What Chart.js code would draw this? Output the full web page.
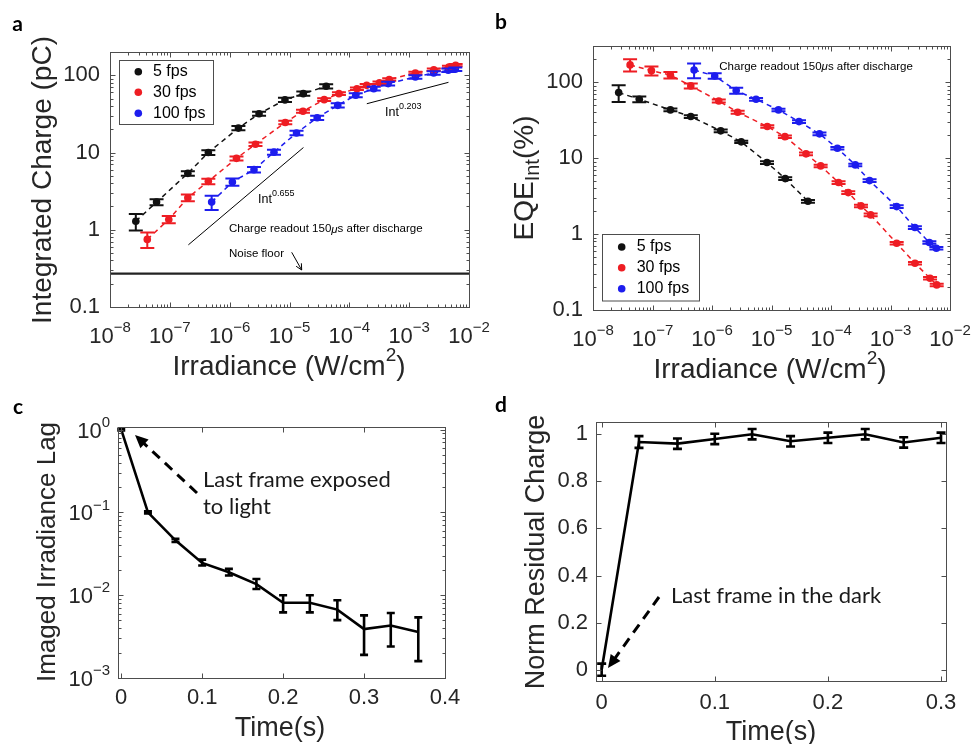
<!DOCTYPE html>
<html>
<head>
<meta charset="utf-8">
<title>Integrated charge, EQE and image lag</title>
<script src="https://cdn.jsdelivr.net/npm/chart.js@4.4.1/dist/chart.umd.min.js"></script>
<style>
  html, body { margin: 0; padding: 0; background: #fff; }
  #figure { position: relative; width: 975px; height: 744px; overflow: hidden; background: #fff; }
  #figure canvas { position: absolute; }
</style>
</head>
<body>
<div id="figure">
  <canvas id="panelA" width="505" height="395" style="left:0;top:0"></canvas>
  <canvas id="panelB" width="488" height="395" style="left:487px;top:0"></canvas>
  <canvas id="panelC" width="487" height="349" style="left:0;top:395px"></canvas>
  <canvas id="panelD" width="488" height="349" style="left:487px;top:395px"></canvas>
</div>
<script>
// ---------------- data ----------------
const frameRates = ['5 fps', '30 fps', '100 fps'];

// Irradiance (W/cm²) of each measurement
const irr5   = [2.7e-8, 6.0e-8, 2.0e-7, 4.4e-7, 1.4e-6, 3.1e-6, 8.4e-6, 1.7e-5, 4.1e-5];
const irr30  = [4.2e-8, 9.6e-8, 2.0e-7, 4.4e-7, 1.3e-6, 2.7e-6, 8.5e-6, 1.68e-5, 3.8e-5, 6.7e-5,
                1.34e-4, 1.95e-4, 3.19e-4, 4.64e-4, 1.27e-3, 2.58e-3, 4.62e-3, 5.98e-3];
const irr100 = [5.0e-7, 1.11e-6, 2.55e-6, 5.5e-6, 1.31e-5, 2.9e-5, 6.4e-5, 1.28e-4, 2.56e-4, 4.45e-4,
                1.27e-3, 2.57e-3, 4.5e-3, 5.9e-3];

// Integrated charge (pC) and its ± error
const charge5      = [1.29, 2.28, 5.37, 10.0, 20.7, 31.8, 48, 57.8, 71.9];
const charge5Err   = [0.31, 0.2, 0.37, 0.7, 1.3, 2, 3, 3.6, 4.5];
const charge30     = [0.75, 1.36, 2.6, 4.23, 8.4, 12.8, 24.5, 34.2, 48.3, 57.8, 67, 74, 80, 88, 107, 118, 128, 135];
const charge30Err  = [0.17, 0.15, 0.26, 0.35, 0.5, 0.7, 1.2, 1.5, 2, 2.3, 2.6, 2.8, 3, 3.2, 3.7, 4.1, 4.5, 4.7];
const charge100    = [2.28, 4.15, 6.0, 10.1, 17.9, 28.2, 40.8, 55.1, 67.1, 78, 95, 107, 116, 120];
const charge100Err = [0.48, 0.45, 0.5, 0.75, 1.2, 1.8, 2.5, 3.2, 3.8, 4.3, 5, 5.5, 6, 6.2];

// EQE_Int (%) and its ± error
const eqe5      = [73, 59.7, 43.2, 35.3, 22.9, 16.4, 8.75, 5.38, 2.7];
const eqe5Err   = [18, 5.4, 1.8, 1.4, 0.9, 0.6, 0.35, 0.22, 0.11];
const eqe30     = [169, 142, 124, 89.5, 56.7, 40.3, 26.1, 19.2, 11.4, 7.9, 4.77, 3.52, 2.35, 1.79, 0.757, 0.412, 0.262, 0.214];
const eqe30Err  = [31, 19, 12, 7, 2.5, 1.8, 1.0, 0.75, 0.45, 0.3, 0.19, 0.14, 0.09, 0.07, 0.03, 0.016, 0.01, 0.008];
const eqe100    = [145, 121, 77.6, 59.7, 43.2, 30.3, 20.9, 13.5, 8.15, 5.06, 2.3, 1.22, 0.773, 0.65];
const eqe100Err = [32, 10, 7, 2.5, 1.7, 1.2, 0.8, 0.5, 0.3, 0.2, 0.09, 0.05, 0.03, 0.025];

// Noise floor and the two power-law guide lines (Int^0.655, Int^0.203)
const noiseFloorX = [1e-8, 1e-2];
const noiseFloorQ = [0.27, 0.27];
const fitLowX  = [2.04e-7, 1.71e-5];
const fitLowQ  = [0.638, 11.6];
const fitHighX = [1.96e-4, 4.54e-3];
const fitHighQ = [42.8, 81.0];

// Imaged irradiance lag after the last exposed frame
const lagTime  = [0, 0.033, 0.067, 0.1, 0.133, 0.167, 0.2, 0.233, 0.267, 0.3, 0.333, 0.367];
const lagValue = [1, 0.1, 0.046, 0.0245, 0.0189, 0.0136, 0.0081, 0.0081, 0.0067, 0.0039, 0.0043, 0.0036];
const lagLow   = [0.98, 0.097, 0.044, 0.0228, 0.0173, 0.0119, 0.0062, 0.0062, 0.005, 0.0019, 0.0024, 0.0016];
const lagHigh  = [1.02, 0.103, 0.048, 0.0269, 0.0208, 0.0157, 0.01, 0.01, 0.0087, 0.0057, 0.0061, 0.0054];

// Normalised residual charge after the last dark frame
const resTime  = [0, 0.033, 0.067, 0.1, 0.133, 0.167, 0.2, 0.233, 0.267, 0.3];
const resValue = [0, 0.967, 0.96, 0.98, 1.0, 0.97, 0.985, 1.0, 0.965, 0.985];
const resErr   = [0.026, 0.025, 0.022, 0.022, 0.022, 0.022, 0.022, 0.022, 0.022, 0.022];

// Tick values
const irrTicks      = [1e-8, 1e-7, 1e-6, 1e-5, 1e-4, 1e-3, 1e-2];
const chargeTicks   = [0.1, 1, 10, 100];
const eqeTicks      = [0.1, 1, 10, 100];
const lagTicks      = [1e-3, 1e-2, 1e-1, 1];
const lagTimeTicks  = [0, 0.1, 0.2, 0.3, 0.4];
const resTimeTicks  = [0, 0.1, 0.2, 0.3];
const residualTicks = [0, 0.2, 0.4, 0.6, 0.8, 1];

// ---------------- styling helpers ----------------
const BLACK = '#111111', RED = '#ee1d23', BLUE = '#1d1dee';
const AXIS = '#4d4d4d', TEXT = '#262626';
const SANS = '"Liberation Sans", Arial, Helvetica, sans-serif';
const HUMAN = 'Lato, "Open Sans", sans-serif';
const font = (px, style) => `${style ? style + ' ' : ''}${px}px ${SANS}`;

function richWidth(ctx, parts) {
  let w = 0;
  for (const p of parts) { ctx.font = p.f; w += ctx.measureText(p.t).width; }
  return w;
}
function drawRich(ctx, parts, x, y, align) {
  const w = richWidth(ctx, parts);
  let cx = align === 'center' ? x - w / 2 : align === 'right' ? x - w : x;
  ctx.textAlign = 'left';
  ctx.textBaseline = 'middle';
  for (const p of parts) {
    ctx.font = p.f;
    ctx.fillText(p.t, cx, y + (p.dy || 0));
    cx += ctx.measureText(p.t).width;
  }
}
function rotatedTitle(ctx, parts, cx, cy) {
  ctx.save();
  ctx.translate(cx, cy);
  ctx.rotate(-Math.PI / 2);
  drawRich(ctx, parts, 0, 0, 'center');
  ctx.restore();
}
function panelLetter(ctx, letter, x, y) {
  ctx.fillStyle = '#000';
  ctx.font = `bold 21px ${HUMAN}`;
  ctx.textAlign = 'center';
  ctx.textBaseline = 'middle';
  ctx.fillText(letter, x, y);
}
function powLabel(v) {
  const e = Math.round(Math.log10(v));
  return [{ t: '10', f: font(22) }, { t: e < 0 ? '\u2212' + (-e) : String(e), f: font(15), dy: -9 }];
}
function numLabel(v) {
  return [{ t: String(v), f: font(22) }];
}
function readoutNote(px) {
  return [{ t: 'Charge readout 150', f: font(px) }, { t: '\u03bc', f: font(px, 'italic') },
          { t: 's after discharge', f: font(px) }];
}
function legendBox(ctx, chart, box, dotX, textX, rows) {
  ctx.save();
  ctx.fillStyle = '#fff';
  ctx.fillRect(box.x, box.y, box.w, box.h);
  ctx.strokeStyle = AXIS;
  ctx.lineWidth = 1;
  ctx.strokeRect(box.x, box.y, box.w, box.h);
  const sets = chart.data.datasets.filter(ds => frameRates.includes(ds.label));
  sets.forEach((ds, i) => {
    ctx.fillStyle = ds.borderColor;
    ctx.beginPath();
    ctx.arc(dotX, rows[i], 3.8, 0, Math.PI * 2);
    ctx.fill();
    ctx.fillStyle = '#000';
    drawRich(ctx, [{ t: ds.label, f: font(16) }], textX, rows[i], 'left');
  });
  ctx.restore();
}
function arrow(ctx, x1, y1, x2, y2, o) {
  const dx = x2 - x1, dy = y2 - y1, L = Math.hypot(dx, dy);
  const ux = dx / L, uy = dy / L;
  ctx.save();
  ctx.strokeStyle = o.color; ctx.fillStyle = o.color;
  ctx.lineWidth = o.width;
  ctx.setLineDash(o.dash || []);
  ctx.beginPath();
  const end = o.filled ? L - o.head * 0.8 : L;
  ctx.moveTo(x1, y1);
  ctx.lineTo(x1 + ux * end, y1 + uy * end);
  ctx.stroke();
  ctx.setLineDash([]);
  const bx = x2 - ux * o.head, by = y2 - uy * o.head;
  const px = -uy * o.half, py = ux * o.half;
  ctx.beginPath();
  if (o.filled) {
    ctx.moveTo(x2, y2); ctx.lineTo(bx + px, by + py); ctx.lineTo(bx - px, by - py); ctx.closePath(); ctx.fill();
  } else {
    ctx.moveTo(bx + px, by + py); ctx.lineTo(x2, y2); ctx.lineTo(bx - px, by - py); ctx.stroke();
  }
  ctx.restore();
}

// ---------------- per-panel extra drawing ----------------
function drawA(ctx, chart) {
  panelLetter(ctx, 'a', 17.5, 24);
  ctx.fillStyle = TEXT;
  rotatedTitle(ctx, [{ t: 'Integrated Charge (pC)', f: font(28) }], 43, 180);
  drawRich(ctx, [{ t: 'Irradiance (W/cm', f: font(28) }, { t: '2', f: font(19), dy: -11 }, { t: ')', f: font(28) }], 289, 367, 'center');
  legendBox(ctx, chart, { x: 119.5, y: 60.5, w: 94, h: 64 }, 138.3, 153, [71.7, 92.3, 113.3]);
  ctx.fillStyle = '#000';
  drawRich(ctx, [{ t: 'Int', f: font(12.5) }, { t: '0.655', f: font(9), dy: -6 }], 258, 200, 'left');
  drawRich(ctx, [{ t: 'Int', f: font(12.5) }, { t: '0.203', f: font(9), dy: -6 }], 385, 113, 'left');
  drawRich(ctx, readoutNote(11.5), 229, 229.3, 'left');
  drawRich(ctx, [{ t: 'Noise floor', f: font(11.5) }], 229, 254.3, 'left');
  arrow(ctx, 291.7, 252.3, 301.7, 270, { color: '#000', width: 1, head: 6, half: 3, filled: false });
}
function drawB(ctx, chart) {
  panelLetter(ctx, 'b', 14, 22);
  ctx.fillStyle = TEXT;
  rotatedTitle(ctx, [{ t: 'EQE', f: font(28) }, { t: 'Int', f: font(20), dy: 8 }, { t: '(%)', f: font(28) }], 38, 178);
  drawRich(ctx, [{ t: 'Irradiance (W/cm', f: font(28) }, { t: '2', f: font(19), dy: -11 }, { t: ')', f: font(28) }], 283, 370, 'center');
  legendBox(ctx, chart, { x: 115.5, y: 234.5, w: 97, h: 66.5 }, 134.7, 149.7, [247, 267.7, 288.7]);
  ctx.fillStyle = '#000';
  drawRich(ctx, readoutNote(11.5), 232.3, 66.7, 'left');
}
function drawC(ctx, chart) {
  panelLetter(ctx, 'c', 18, 12);
  ctx.fillStyle = TEXT;
  rotatedTitle(ctx, [{ t: 'Imaged Irradiance Lag', f: font(26) }], 48, 157);
  drawRich(ctx, [{ t: 'Time(s)', f: font(27) }], 280, 334, 'center');
  ctx.fillStyle = '#1a1a1a';
  ctx.font = `22px ${HUMAN}`;
  ctx.textAlign = 'left'; ctx.textBaseline = 'middle';
  ctx.fillText('Last frame exposed', 203, 85);
  ctx.fillText('to light', 203, 111.7);
  arrow(ctx, 197, 98, 135, 40, { color: '#000', width: 3, dash: [10, 7], head: 13, half: 6, filled: true });
}
function drawD(ctx, chart) {
  panelLetter(ctx, 'd', 14, 10);
  ctx.fillStyle = TEXT;
  rotatedTitle(ctx, [{ t: 'Norm Residual Charge', f: font(27) }], 50, 157);
  drawRich(ctx, [{ t: 'Time(s)', f: font(27) }], 284, 338, 'center');
  ctx.fillStyle = '#1a1a1a';
  ctx.font = `22px ${HUMAN}`;
  ctx.textAlign = 'left'; ctx.textBaseline = 'middle';
  ctx.fillText('Last frame in the dark', 184, 200.7);
  arrow(ctx, 172, 202, 121, 273, { color: '#000', width: 3, dash: [10, 7], head: 13, half: 6, filled: true });
}

const decorations = {
  panelA: { xLabel: powLabel, xLabelY: 337, yLabel: numLabel, yLabelRight: 100, yLabelDy: 0,
            minorX: true, minorY: true, cap: 7, errWidth: 2, extra: drawA },
  panelB: { xLabel: powLabel, xLabelY: 340, yLabel: numLabel, yLabelRight: 96, yLabelDy: 0,
            minorX: true, minorY: true, cap: 7, errWidth: 2, extra: drawB },
  panelC: { xLabel: numLabel, xLabelY: 303, yLabel: powLabel, yLabelRight: 110, yLabelDy: 2,
            minorX: false, minorY: true, cap: 4, errWidth: 2.6, extra: drawC },
  panelD: { xLabel: numLabel, xLabelY: 308, yLabel: numLabel, yLabelRight: 101, yLabelDy: 0,
            minorX: false, minorY: false, cap: 4.5, errWidth: 2.6, extra: drawD }
};

function minorValues(scale) {
  const out = [];
  const k0 = Math.floor(Math.log10(scale.min)), k1 = Math.ceil(Math.log10(scale.max));
  for (let k = k0; k <= k1; k++) {
    for (let m = 2; m <= 9; m++) {
      const v = m * Math.pow(10, k);
      if (v > scale.min && v < scale.max) out.push(v);
    }
  }
  return out;
}

// Error bars, box frame, inward ticks, tick labels and annotations
const decorPlugin = {
  id: 'decor',
  afterDatasetsDraw(chart) {
    const d = decorations[chart.canvas.id];
    const ctx = chart.ctx, ys = chart.scales.y;
    chart.data.datasets.forEach((ds, i) => {
      if (!ds.err && !ds.errLow) return;
      const meta = chart.getDatasetMeta(i);
      ctx.save();
      ctx.strokeStyle = ds.borderColor;
      ctx.lineWidth = d.errWidth;
      ctx.setLineDash([]);
      meta.data.forEach((pt, j) => {
        const v = ds.data[j].y;
        const lo = ds.errLow ? ds.errLow[j] : v - ds.err[j];
        const hi = ds.errHigh ? ds.errHigh[j] : v + ds.err[j];
        const y1 = ys.getPixelForValue(lo), y2 = ys.getPixelForValue(hi), x = pt.x, c = d.cap;
        ctx.beginPath();
        ctx.moveTo(x, y1); ctx.lineTo(x, y2);
        ctx.moveTo(x - c, y1); ctx.lineTo(x + c, y1);
        ctx.moveTo(x - c, y2); ctx.lineTo(x + c, y2);
        ctx.stroke();
      });
      ctx.restore();
    });
  },
  afterDraw(chart) {
    const d = decorations[chart.canvas.id];
    const ctx = chart.ctx;
    const { left, right, top, bottom } = chart.chartArea;
    const xs = chart.scales.x, ys = chart.scales.y;
    const L = Math.round(left) + 0.5, R = Math.round(right) + 0.5;
    const T = Math.round(top) + 0.5, B = Math.round(bottom) + 0.5;
    ctx.save();
    ctx.strokeStyle = AXIS;
    ctx.lineWidth = 1;
    ctx.strokeRect(L, T, R - L, B - T);
    ctx.beginPath();
    const xTick = (v, len) => {
      const p = Math.round(xs.getPixelForValue(v)) + 0.5;
      ctx.moveTo(p, B); ctx.lineTo(p, B - len);
      ctx.moveTo(p, T); ctx.lineTo(p, T + len);
    };
    const yTick = (v, len) => {
      const p = Math.round(ys.getPixelForValue(v)) + 0.5;
      ctx.moveTo(L, p); ctx.lineTo(L + len, p);
      ctx.moveTo(R, p); ctx.lineTo(R - len, p);
    };
    xs.ticks.forEach(t => xTick(t.value, 5));
    ys.ticks.forEach(t => yTick(t.value, 5));
    if (d.minorX) minorValues(xs).forEach(v => xTick(v, 3));
    if (d.minorY) minorValues(ys).forEach(v => yTick(v, 3));
    ctx.stroke();
    ctx.fillStyle = TEXT;
    xs.ticks.forEach(t => drawRich(ctx, d.xLabel(t.value), xs.getPixelForValue(t.value), d.xLabelY, 'center'));
    ys.ticks.forEach(t => drawRich(ctx, d.yLabel(t.value), d.yLabelRight, ys.getPixelForValue(t.value) + d.yLabelDy, 'right'));
    d.extra(ctx, chart);
    ctx.restore();
  }
};

// ---------------- chart builders ----------------
function series(label, xs, ys, err, color) {
  return {
    label, data: xs.map((x, i) => ({ x, y: ys[i] })), err,
    borderColor: color, backgroundColor: color, pointBackgroundColor: color, pointBorderColor: color,
    borderWidth: 1.5, borderDash: [5, 4], pointRadius: 3.8, pointBorderWidth: 0, fill: false, tension: 0
  };
}
function guide(xs, ys, width, color) {
  return {
    label: 'guide', data: xs.map((x, i) => ({ x, y: ys[i] })),
    borderColor: color, backgroundColor: color, borderWidth: width, pointRadius: 0, fill: false, tension: 0
  };
}
function axis(type, min, max, ticks, pos, size) {
  return {
    type, min, max, position: pos, bounds: 'data',
    grid: { display: false, drawTicks: false }, border: { display: false },
    ticks: { display: false },
    afterBuildTicks: s => { s.ticks = ticks.map(v => ({ value: v })); },
    afterFit: s => { if (pos === 'left') s.width = size; else s.height = size; }
  };
}
function makeChart(id, datasets, xAxis, yAxis, padding) {
  return new Chart(document.getElementById(id), {
    type: 'line',
    data: { datasets },
    options: {
      responsive: false, animation: false, events: [],
      layout: { padding },
      plugins: { legend: { display: false }, tooltip: { enabled: false } },
      scales: { x: xAxis, y: yAxis }
    },
    plugins: [decorPlugin]
  });
}

// a: integrated charge vs irradiance
makeChart('panelA', [
  guide(noiseFloorX, noiseFloorQ, 2.2, '#222'),
  guide(fitLowX, fitLowQ, 1, '#000'),
  guide(fitHighX, fitHighQ, 1, '#000'),
  series(frameRates[0], irr5, charge5, charge5Err, BLACK),
  series(frameRates[1], irr30, charge30, charge30Err, RED),
  series(frameRates[2], irr100, charge100, charge100Err, BLUE)
], axis('logarithmic', 1e-8, 1e-2, irrTicks, 'bottom', 88),
   axis('logarithmic', 0.1, 200, chargeTicks, 'left', 110),
   { left: 0, top: 52, right: 36, bottom: 0 });

// b: EQE vs irradiance
makeChart('panelB', [
  series(frameRates[0], irr5, eqe5, eqe5Err, BLACK),
  series(frameRates[1], irr30, eqe30, eqe30Err, RED),
  series(frameRates[2], irr100, eqe100, eqe100Err, BLUE)
], axis('logarithmic', 1e-8, 1e-2, irrTicks, 'bottom', 85),
   axis('logarithmic', 0.1, 300, eqeTicks, 'left', 106),
   { left: 0, top: 46, right: 25, bottom: 0 });

// c: image lag
makeChart('panelC', [{
  label: 'lag', data: lagTime.map((x, i) => ({ x, y: lagValue[i] })), errLow: lagLow, errHigh: lagHigh,
  borderColor: '#000', backgroundColor: '#000', borderWidth: 2.6, pointRadius: 0, fill: false, tension: 0
}], axis('linear', -0.004, 0.4, lagTimeTicks, 'bottom', 66),
   axis('logarithmic', 1e-3, 1.075, lagTicks, 'left', 118),
   { left: 0, top: 32, right: 42, bottom: 0 });

// d: residual charge
makeChart('panelD', [{
  label: 'residual', data: resTime.map((x, i) => ({ x, y: resValue[i] })), err: resErr,
  borderColor: '#000', backgroundColor: '#000', borderWidth: 2.6, pointRadius: 0, fill: false, tension: 0
}], axis('linear', -0.005, 0.3044, resTimeTicks, 'bottom', 63),
   axis('linear', -0.048, 1.052, residualTicks, 'left', 109),
   { left: 0, top: 27, right: 29, bottom: 0 });
</script>
</body>
</html>
